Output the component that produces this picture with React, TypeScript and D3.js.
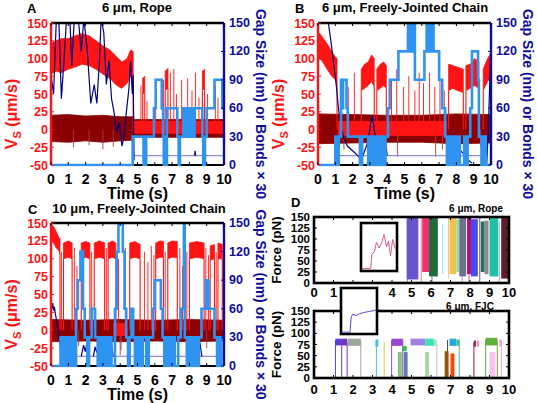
import React from "react";
import * as d3 from "d3";

type Env = number[][]; // [t, lo, hi]
type Pt = number[]; // [t, v]

// ---------------- shared ticks ----------------
const timeTicks = [0, 1, 2, 3, 4, 5, 6, 7, 8, 9, 10];
const speedTicks = [-50, -25, 0, 25, 50, 75, 100, 125, 150];
const gapTicks = [0, 30, 60, 90, 120, 150];
const forceTicks = [0, 25, 50, 75, 100, 125, 150];

// ---------------- Panel A: 6 µm, Rope ----------------
const aRedHigh: Env[] = [
  [[0, 78, 122], [0.3, 82, 125], [0.6, 80, 128], [1.0, 85, 128], [1.4, 88, 132], [1.8, 92, 135], [2.2, 90, 132], [2.6, 85, 125], [3.0, 78, 118], [3.4, 72, 112], [3.8, 62, 102], [4.1, 58, 95], [4.4, 65, 100], [4.6, 75, 112], [4.75, 70, 110]],
  [[5.3, 50, 72], [5.42, 52, 75]],
  [[6.6, 55, 82], [6.76, 58, 86]],
  [[8.75, 55, 82], [8.88, 58, 85]],
];
const aRedLow: number[][] = [[4.75, 10, -6, 12]];
const aDarkBand: Env = [[0, -17, 20], [1, -18, 21], [2, -16, 19], [3, -18, 20], [4, -16, 18], [4.75, -15, 18], [4.8, -11, 14], [10, -11, 14]];
const aDarkSpikes: Pt[] = [[1.3, -25], [2.2, -22], [3.0, -28], [3.6, -24]];
const aRedSpikes: Pt[] = [[5.2, 62], [5.55, 40], [6.05, 55], [6.5, 70], [6.9, 80], [7.1, 85], [7.25, 50], [7.55, 70], [7.9, 72], [8.15, 55], [8.35, 80], [8.55, 45], [9.05, 50], [9.5, 62], [9.65, 45]];
const aNavy: Pt[][] = [
  [[0, 95], [0.15, 75], [0.3, 150], [0.45, 155], [0.6, 70], [0.75, 110], [0.9, 155], [1.1, 150], [1.2, 105], [1.35, 155], [1.6, 150], [1.75, 120], [1.9, 155], [2.1, 120], [2.3, 65], [2.5, 85], [2.65, 65], [2.8, 110], [2.9, 155], [3.05, 140], [3.2, 85], [3.35, 110], [3.5, 70], [3.65, 55], [3.8, 35], [3.95, 45], [4.1, 20], [4.2, 28], [4.35, 55], [4.5, 80], [4.6, 110], [4.7, 75], [4.75, 95], [4.8, 5]],
  [[6.55, 10], [6.6, 17], [6.65, 10]],
  [[8.3, 10], [8.33, 15], [8.36, 10]],
];
const aBaseline: number[][] = [[4.8, 10]];
const aBlue: Pt[] = [[0, 0], [4.72, 30], [5.35, 0], [5.5, 30], [5.95, 60], [6.05, 90], [6.4, 60], [6.48, 30], [6.52, 0], [6.6, 30], [6.64, 0], [6.7, 60], [7.3, 30], [7.38, 0], [7.45, 30], [7.65, 60], [7.75, 30], [7.8, 60], [7.9, 30], [7.95, 60], [8.05, 30], [8.1, 60], [8.2, 30], [8.3, 60], [8.75, 30], [8.8, 0], [8.9, 30], [9.0, 60], [9.45, 90], [9.9, 60], [10, 60]];

// ---------------- Panel B: 6 µm, Freely-Jointed Chain ----------------
const bRedHigh: Env[] = [
  [[0, 100, 138], [0.2, 98, 132], [0.4, 90, 125], [0.6, 82, 118], [0.8, 75, 110], [1.0, 70, 102], [1.1, 65, 100]],
  [[2.5, 55, 85], [2.7, 58, 92], [2.9, 62, 95], [3.1, 68, 105], [3.25, 60, 100]],
  [[3.4, 55, 85], [3.6, 58, 92], [3.8, 62, 95], [3.95, 58, 90]],
  [[7.55, 55, 92], [7.8, 58, 90], [8.05, 55, 88], [8.4, 52, 85]],
  [[8.55, 55, 90], [8.8, 58, 92], [9.05, 62, 100], [9.3, 58, 95]],
  [[9.55, 55, 85], [9.8, 68, 100], [10, 75, 108]],
];
const bRedLow: number[][] = [[1.15, 7.45, -9, 12]];
const bDarkBand: Env = [[0, -20, 22], [2, -19, 21], [4, -18, 20], [6, -18, 20], [8, -20, 22], [10, -19, 21]];
const bDarkSpikes: Pt[] = [[1.5, -28], [3.0, -30], [4.6, -38], [6.8, -38], [7.2, -28], [9.4, -25]];
const bRedSpikes: Pt[] = [[1.3, 65], [1.75, 60], [2.1, 80], [4.25, 70], [4.55, 85], [4.95, 60], [5.25, 75], [5.6, 55], [5.85, 80], [6.1, 65], [6.45, 80], [6.75, 60], [7.05, 70], [7.3, 55]];
const bNavy: Pt[][] = [
  [[0.5, 160], [0.6, 150], [0.75, 130], [0.9, 108], [1.05, 85], [1.2, 57], [1.35, 38], [1.5, 28], [1.7, 20], [2.0, 15], [2.3, 10], [2.5, 5], [2.7, 15], [2.9, 25], [3.05, 45], [3.15, 52], [3.3, 30], [3.5, 20], [3.7, 15], [3.9, 25], [4.0, 10]],
  [[7.55, 30], [7.8, 25], [8.1, 18], [8.4, 12], [8.7, 5], [8.9, 2]],
  [[9.75, 0], [9.85, 40], [9.95, 100], [10, 130]],
];
const bBaseline: number[][] = [[1.2, 9.5]];
const bBlue: Pt[] = [[0, 0], [1.0, 30], [1.08, 0], [1.2, 30], [1.33, 90], [1.4, 60], [1.45, 90], [1.65, 60], [1.72, 30], [2.42, 0], [2.55, 30], [2.9, 0], [2.98, 30], [3.05, 0], [3.2, 30], [3.3, 0], [3.45, 30], [3.55, 0], [3.7, 30], [3.8, 0], [3.9, 30], [4.05, 60], [4.15, 90], [4.65, 120], [5.2, 150], [5.28, 120], [5.35, 150], [5.42, 120], [5.5, 150], [5.6, 90], [6.15, 120], [6.28, 150], [6.35, 120], [6.42, 150], [6.5, 120], [6.58, 150], [6.68, 120], [7.0, 90], [7.18, 60], [7.35, 30], [7.45, 0], [7.6, 30], [7.7, 0], [7.85, 30], [7.95, 0], [8.1, 30], [8.2, 0], [8.45, 30], [8.55, 0], [8.65, 30], [8.8, 60], [8.9, 120], [9.25, 90], [9.3, 30], [9.45, 0], [9.55, 30], [9.7, 0], [10, 0]];

// ---------------- Panel C: 10 µm, Freely-Jointed Chain ----------------
const cRedHigh: Env[] = [
  [[0, 125, 148], [0.15, 122, 145], [0.3, 115, 138], [0.45, 112, 130], [0.52, 105, 128]],
  [[0.72, 100, 122], [1.0, 102, 125], [1.22, 100, 122]],
  [[1.75, 100, 122], [2.0, 102, 124], [2.25, 100, 122]],
  [[2.5, 100, 122], [2.8, 102, 125], [3.1, 100, 122]],
  [[3.3, 100, 122], [3.55, 102, 125], [3.75, 100, 122]],
  [[4.55, 100, 122], [4.85, 102, 124], [5.15, 100, 120]],
  [[6.05, 100, 122], [6.3, 102, 125], [6.5, 102, 124]],
  [[6.75, 100, 122], [7.0, 102, 125], [7.3, 102, 124]],
  [[8.0, 100, 122], [8.45, 102, 124], [8.85, 100, 122]],
  [[9.2, 98, 118], [9.45, 100, 120]],
  [[9.65, 100, 122], [9.9, 100, 120]],
];
const cRedLow: number[][] = [[3.6, 4.3, -8, 10]];
const cDarkBand: Env = [[0, -16, 15], [2, -15, 14], [4, -16, 15], [6, -15, 14], [8, -16, 15], [10, -15, 14]];
const cDarkSpikes: Pt[] = [[4.0, -35], [4.05, -28], [9.0, -25], [1.6, -22]];
const cRedSpikes: Pt[] = [[0.6, 110], [1.35, 115], [1.5, 90], [2.35, 110], [3.2, 115], [3.9, 100], [4.3, 115], [5.4, 110], [5.6, 95], [5.8, 118], [5.95, 105], [6.6, 110], [7.45, 115], [7.6, 90], [7.85, 110], [8.95, 115], [9.1, 105], [9.55, 110], [10, 115]];
const cNavy: Pt[][] = [
  [[0, 68], [0.05, 60], [0.1, 66], [0.15, 58], [0.2, 62], [0.25, 55], [0.3, 50], [0.4, 38], [0.5, 25], [0.6, 12], [0.7, 8]],
  [[0.9, 10], [1.0, 20], [1.08, 13], [1.15, 22], [1.22, 10]],
  [[1.75, 10], [1.88, 22], [1.98, 15], [2.08, 25], [2.2, 10]],
  [[2.45, 10], [2.55, 20], [2.65, 14], [2.75, 23], [2.85, 10]],
  [[3.2, 10], [3.3, 22], [3.4, 15], [3.5, 22], [3.6, 10]],
  [[6.8, 10], [6.9, 18], [6.98, 24], [7.08, 12]],
  [[8.3, 10], [8.42, 22], [8.5, 16], [8.6, 25], [8.72, 10]],
];
const cBaseline: number[][] = [[0.6, 10]];
const cBlue: Pt[] = [[0, 0], [0.55, 30], [0.62, 0], [0.7, 30], [0.8, 0], [0.95, 30], [1.05, 0], [1.2, 30], [1.3, 0], [1.45, 60], [1.55, 90], [1.7, 120], [1.85, 60], [1.95, 30], [2.1, 0], [2.2, 30], [2.35, 60], [2.55, 30], [2.7, 0], [2.8, 30], [2.95, 0], [3.1, 30], [3.2, 0], [3.35, 30], [3.5, 0], [3.7, 60], [3.8, 120], [3.9, 150], [4.15, 120], [4.25, 60], [4.35, 30], [4.45, 0], [4.55, 30], [4.65, 60], [4.75, 30], [4.85, 0], [5.0, 30], [5.15, 0], [5.3, 30], [5.5, 0], [5.65, 30], [5.9, 60], [6.0, 90], [6.35, 60], [6.45, 30], [6.55, 0], [6.7, 30], [6.85, 0], [7.0, 30], [7.15, 0], [7.35, 30], [7.5, 60], [7.68, 150], [7.73, 30], [7.85, 0], [8.0, 30], [8.15, 0], [8.3, 30], [8.45, 0], [8.55, 30], [8.7, 60], [8.95, 90], [9.1, 60], [9.45, 30], [9.6, 0], [9.75, 30], [9.85, 0], [10, 0]];

// ---------------- Panel D: forces ----------------
// rope bonds: [t0, t1, lo, hi], colour by index
const dRopeBands: number[][] = [
  [4.75, 5.35, 8, 150], [5.55, 5.9, 25, 150], [5.9, 6.35, 15, 150], [6.95, 7.3, 20, 150],
  [7.3, 7.45, 25, 145], [7.45, 7.8, 15, 148], [7.85, 8.05, 20, 150], [8.05, 8.4, 15, 145],
  [8.55, 8.75, 25, 140], [8.75, 8.95, 20, 142], [9.0, 9.45, 15, 150], [9.6, 10, 10, 150],
];
const dRopeColors = ["#6a55cc", "#e8336e", "#1f6b3a", "#f2c14e", "#92e0a0", "#707090", "#b0107a", "#4a4af0", "#2e6e5e", "#8a8a8a", "#20c0a8", "#5a2030"];
// rope thin traces: [t, lo, hi]
const dRopeLines: number[][] = [[4.8, 0, 120], [5.5, 0, 150], [6.05, 0, 40], [6.6, 20, 135], [6.9, 10, 150], [7.6, 0, 60], [7.95, 0, 20], [8.5, 0, 150], [9.5, 0, 140]];
const dRopeLineColors = ["#9a8ae0", "#f07aa0", "#5a9a6a", "#8fe0e0", "#e0d080", "#a0a0c0", "#c060b0", "#606090", "#b0a0e0"];
// FJC bonds: plateaus [t0, t1, lo, hi]
const dFjcBands: number[][] = [
  [1.1, 1.42, 73, 88], [1.42, 1.7, 73, 88], [1.72, 2.4, 72, 88], [3.15, 3.3, 70, 86],
  [3.98, 4.55, 72, 88], [4.55, 4.75, 60, 72], [4.95, 5.7, 73, 88], [5.7, 6.15, 72, 88],
  [6.15, 6.3, 72, 86], [6.95, 7.3, 72, 88], [7.3, 7.45, 72, 86], [8.2, 8.3, 70, 84],
  [8.35, 8.45, 70, 84], [8.8, 9.4, 73, 90], [9.5, 9.62, 70, 86],
  [4.3, 4.5, 0, 58], [4.6, 4.8, 0, 58], [5.7, 5.9, 0, 58], [6.7, 6.9, 0, 60], [7.0, 7.2, 0, 55], [9.0, 9.3, 0, 58],
];
const dFjcColors = ["#5b3fd6", "#7b2fbf", "#9aaa98", "#3cc4e0", "#9b45d6", "#30c050", "#a080e0", "#40e0b0", "#a0e8c8", "#20a8e0", "#40c090", "#a01050", "#f080b0", "#60b040", "#f8a0e0", "#7cc87c", "#6878a8", "#a8d8a8", "#8b5a00", "#ff4500", "#f8c0f0"];
const dFjcLines: number[][] = [[1.1, 0, 85], [1.42, 0, 85], [1.7, 0, 80], [2.4, 0, 85], [3.2, 0, 86], [3.6, 0, 80], [3.98, 0, 85], [4.55, 0, 85], [6.3, 0, 80], [6.85, 0, 85], [7.45, 0, 86], [8.2, 0, 80], [8.8, 0, 85], [9.4, 0, 85], [9.6, 0, 86]];
const dFjcLineColors = ["#5b3fd6", "#5b3fd6", "#7b2fbf", "#9aaa98", "#3cc4e0", "#d0d040", "#9b45d6", "#9b45d6", "#c0c0c0", "#404040", "#40c090", "#a01050", "#60b040", "#60b040", "#f8a0e0"];
// insets (relative units 0..100)
const ropeInset: Pt[] = [[4, 5], [27, 5], [30, 35], [37, 40], [43, 60], [50, 48], [57, 58], [64, 76], [71, 50], [76, 62], [82, 32], [88, 66], [95, 46]];
const fjcInset: Pt[] = [[2, 4], [25, 4], [28, 35], [32, 43], [42, 40], [51, 44], [65, 47], [79, 49], [98, 52]];

// ---------------- styles ----------------
const FONT = "'Liberation Sans', Arial, Helvetica, sans-serif";
const RED = "#ff1414";
const DARK_RED = "#8b0000";
const NAVY = "#000080";
const AXIS_NAVY = "#0c0c9c";
const BLUE = "#2f93f2";
const LAV = "#8e8ed6";

interface Box { x0: number; x1: number; y0: number; y1: number; }
interface PanelSpec {
  id: string; box: Box; letter: string; letterX: number; letterY: number; title: string; titleX: number; titleY: number;
  redHigh: Env[]; redLow: number[][]; darkBand: Env; darkSpikes: Pt[]; redSpikes: Pt[]; navy: Pt[][]; baseline: number[][]; blue: Pt[];
}

const panels: PanelSpec[] = [
  { id: "A", box: { x0: 51, x1: 224, y0: 23, y1: 165 }, letter: "A", letterX: 27, letterY: 13, title: "6 μm, Rope", titleX: 137, titleY: 12,
    redHigh: aRedHigh, redLow: aRedLow, darkBand: aDarkBand, darkSpikes: aDarkSpikes, redSpikes: aRedSpikes, navy: aNavy, baseline: aBaseline, blue: aBlue },
  { id: "B", box: { x0: 318, x1: 491, y0: 23, y1: 165 }, letter: "B", letterX: 295, letterY: 13, title: "6 μm, Freely-Jointed Chain", titleX: 405, titleY: 12,
    redHigh: bRedHigh, redLow: bRedLow, darkBand: bDarkBand, darkSpikes: bDarkSpikes, redSpikes: bRedSpikes, navy: bNavy, baseline: bBaseline, blue: bBlue },
  { id: "C", box: { x0: 51, x1: 224, y0: 223, y1: 366 }, letter: "C", letterX: 28, letterY: 214, title: "10 μm, Freely-Jointed Chain", titleX: 139, titleY: 213,
    redHigh: cRedHigh, redLow: cRedLow, darkBand: cDarkBand, darkSpikes: cDarkSpikes, redSpikes: cRedSpikes, navy: cNavy, baseline: cBaseline, blue: cBlue },
];

function SpeedPanel({ p }: { p: PanelSpec }) {
  const { box } = p;
  const x = d3.scaleLinear().domain([0, 10]).range([box.x0, box.x1]);
  const yS = d3.scaleLinear().domain([-50, 150]).range([box.y1, box.y0]);
  const yG = d3.scaleLinear().domain([0, 150]).range([box.y1, box.y0]);
  const area = d3.area<number[]>().x((d) => x(d[0])).y0((d) => yS(d[1])).y1((d) => yS(d[2]));
  const line = d3.line<number[]>().x((d) => x(d[0])).y((d) => yG(d[1]));
  const step = d3.line<number[]>().x((d) => x(d[0])).y((d) => yG(d[1])).curve(d3.curveStepAfter);
  const clip = `clip-${p.id}`;
  const midY = (box.y0 + box.y1) / 2;
  return (
    <g>
      <defs>
        <clipPath id={clip}>
          <rect x={box.x0} y={box.y0} width={box.x1 - box.x0} height={box.y1 - box.y0 + 1.5} />
        </clipPath>
      </defs>
      <line x1={box.x0} x2={box.x1} y1={box.y1} y2={box.y1} stroke="#000" strokeWidth={2.2} />
      <g clipPath={`url(#${clip})`}>
        <path d={area(p.darkBand) || ""} fill={DARK_RED} stroke={DARK_RED} strokeWidth={0.8} />
        {p.darkSpikes.map(([t, v], i) => (
          <line key={i} x1={x(t)} x2={x(t)} y1={yS(0)} y2={yS(v)} stroke="#a04040" strokeWidth={0.9} />
        ))}
        {p.redLow.map(([t0, t1, lo, hi], i) => (
          <rect key={i} x={x(t0)} width={x(t1) - x(t0)} y={yS(hi)} height={yS(lo) - yS(hi)} fill={RED} />
        ))}
        {p.redHigh.map((seg, i) => {
          const a = seg[0];
          const b = seg[seg.length - 1];
          return (
            <g key={i}>
              <path d={area(seg) || ""} fill={RED} stroke={RED} strokeWidth={0.8} />
              <line x1={x(a[0])} x2={x(a[0])} y1={yS(0)} y2={yS(a[1])} stroke={RED} strokeWidth={1.1} />
              <line x1={x(b[0])} x2={x(b[0])} y1={yS(0)} y2={yS(b[1])} stroke={RED} strokeWidth={1.1} />
            </g>
          );
        })}
        {p.redSpikes.map(([t, v], i) => (
          <line key={i} x1={x(t)} x2={x(t)} y1={yS(0)} y2={yS(v)} stroke={RED} strokeWidth={0.9} />
        ))}
        {p.baseline.map(([t0, t1], i) => (
          <line key={i} x1={x(t0)} x2={x(t1)} y1={yG(10)} y2={yG(10)} stroke={LAV} strokeWidth={1.3} />
        ))}
        {p.navy.map((seg, i) => (
          <path key={i} d={line(seg) || ""} fill="none" stroke={NAVY} strokeWidth={1.2} />
        ))}
        <path d={step(p.blue) || ""} fill="none" stroke={BLUE} strokeWidth={2.6} />
      </g>
      {/* frame */}
      <line x1={box.x0} x2={box.x1} y1={box.y0} y2={box.y0} stroke="#000" strokeWidth={2.6} />
      <line x1={box.x0} x2={box.x0} y1={box.y0} y2={box.y1} stroke={RED} strokeWidth={2.4} />
      <line x1={box.x1} x2={box.x1} y1={box.y0} y2={box.y1} stroke={AXIS_NAVY} strokeWidth={2.4} />
      {timeTicks.map((t) => (
        <g key={t}>
          <line x1={x(t)} x2={x(t)} y1={box.y1} y2={box.y1 - 3} stroke="#000" strokeWidth={1} />
          <line x1={x(t)} x2={x(t)} y1={box.y0} y2={box.y0 + 3} stroke="#000" strokeWidth={1} />
          <text x={x(t)} y={box.y1 + 18.5} textAnchor="middle" fontSize={14} fontWeight="bold" fill="#000">{t}</text>
        </g>
      ))}
      {speedTicks.map((v) => (
        <g key={v}>
          <line x1={box.x0} x2={box.x0 + 3} y1={yS(v)} y2={yS(v)} stroke={RED} strokeWidth={1} />
          <text x={box.x0 - 3} y={yS(v) + 4.5} textAnchor="end" fontSize={12.5} fontWeight="bold" fill={RED}>{v}</text>
        </g>
      ))}
      {gapTicks.map((v) => (
        <g key={v}>
          <line x1={box.x1} x2={box.x1 - 3} y1={yG(v)} y2={yG(v)} stroke={AXIS_NAVY} strokeWidth={1} />
          <text x={box.x1 + 5} y={yG(v) + 4} textAnchor="start" fontSize={12.5} fontWeight="bold" fill={AXIS_NAVY}>{v}</text>
        </g>
      ))}
      <text x={(box.x0 + box.x1) / 2} y={box.y1 + 34} textAnchor="middle" fontSize={16} fontWeight="bold">Time (s)</text>
      <text transform={`translate(${box.x0 - 34},${midY + 20}) rotate(-90)`} textAnchor="middle" fontSize={16} fontWeight="bold" fill={RED}>
        V<tspan dy={4} fontSize={11}>S</tspan><tspan dy={-4}> (μm/s)</tspan>
      </text>
      <text transform={`translate(${box.x1 + 32},${midY + 10}) rotate(90)`} textAnchor="middle" fontSize={14} fontWeight="bold" fill={AXIS_NAVY}>
        Gap Size (nm) or Bonds × 30
      </text>
      <text x={p.letterX} y={p.letterY} fontSize={13} fontWeight="bold">{p.letter}</text>
      <text x={p.titleX} y={p.titleY} textAnchor="middle" fontSize={13} fontWeight="bold">{p.title}</text>
    </g>
  );
}

interface ForceSpec {
  id: string; box: Box; bands: number[][]; bandColors: string[]; lines: number[][]; lineColors: string[];
  inset: Pt[]; insetColor: string; insetBox: Box; title: string; titleX: number; titleY: number; titleAnchor: "end" | "middle";
  tickDy: number;
}

function ForcePanel({ f }: { f: ForceSpec }) {
  const { box } = f;
  const x = d3.scaleLinear().domain([0, 10]).range([box.x0, box.x1]);
  const y = d3.scaleLinear().domain([0, 150]).range([box.y1, box.y0]);
  const clip = `clip-${f.id}`;
  return (
    <g>
      <defs>
        <clipPath id={clip}>
          <rect x={box.x0} y={box.y0} width={box.x1 - box.x0} height={box.y1 - box.y0} />
        </clipPath>
      </defs>
      <g clipPath={`url(#${clip})`}>
        {f.lines.map(([t, lo, hi], i) => (
          <line key={`l${i}`} x1={x(t)} x2={x(t)} y1={y(lo)} y2={y(hi)} stroke={f.lineColors[i]} strokeWidth={1} />
        ))}
        {f.bands.map(([t0, t1, lo, hi], i) => (
          <rect key={`b${i}`} x={x(t0)} width={x(t1) - x(t0)} y={y(hi)} height={y(lo) - y(hi)} fill={f.bandColors[i]} />
        ))}
      </g>
      <rect x={box.x0} y={box.y0} width={box.x1 - box.x0} height={box.y1 - box.y0} fill="none" stroke="#000" strokeWidth={2.6} />
      {timeTicks.map((t) => (
        <g key={t}>
          <line x1={x(t)} x2={x(t)} y1={box.y1} y2={box.y1 - 3} stroke="#000" strokeWidth={1} />
          <line x1={x(t)} x2={x(t)} y1={box.y0} y2={box.y0 + 3} stroke="#000" strokeWidth={1} />
          <text x={x(t)} y={box.y1 + f.tickDy} textAnchor="middle" fontSize={13} fontWeight="bold">{t}</text>
        </g>
      ))}
      {forceTicks.map((v) => (
        <g key={v}>
          <line x1={box.x0} x2={box.x0 + 3} y1={y(v)} y2={y(v)} stroke="#000" strokeWidth={1} />
          <line x1={box.x1} x2={box.x1 - 3} y1={y(v)} y2={y(v)} stroke="#000" strokeWidth={1} />
          <text x={box.x0 - 4} y={y(v) + 4} textAnchor="end" fontSize={11.5} fontWeight="bold">{v}</text>
        </g>
      ))}
      <text transform={`translate(${box.x0 - 33},${(box.y0 + box.y1) / 2}) rotate(-90)`} textAnchor="middle" fontSize={13.5} fontWeight="bold">Force (pN)</text>
      <text x={f.titleX} y={f.titleY} textAnchor={f.titleAnchor} fontSize={10} fontWeight="bold">{f.title}</text>
    </g>
  );
}

function Inset({ b, data, color }: { b: Box; data: Pt[]; color: string }) {
  const x = d3.scaleLinear().domain([0, 100]).range([b.x0, b.x1]);
  const y = d3.scaleLinear().domain([0, 100]).range([b.y1, b.y0]);
  const line = d3.line<number[]>().x((d) => x(d[0])).y((d) => y(d[1]));
  return (
    <g>
      <rect x={b.x0} y={b.y0} width={b.x1 - b.x0} height={b.y1 - b.y0} fill="#fff" stroke="#000" strokeWidth={2.6} />
      <path d={line(data) || ""} fill="none" stroke={color} strokeWidth={1} />
    </g>
  );
}

const forcePanels: ForceSpec[] = [
  { id: "D1", box: { x0: 314, x1: 509, y0: 217, y1: 283 }, bands: dRopeBands, bandColors: dRopeColors, lines: dRopeLines, lineColors: dRopeLineColors,
    inset: ropeInset, insetColor: "#e0588a", insetBox: { x0: 361, x1: 397, y0: 223, y1: 271 }, title: "6 μm, Rope", titleX: 503, titleY: 212, titleAnchor: "end", tickDy: 14 },
  { id: "D2", box: { x0: 314, x1: 509, y0: 311, y1: 378 }, bands: dFjcBands, bandColors: dFjcColors, lines: dFjcLines, lineColors: dFjcLineColors,
    inset: fjcInset, insetColor: "#6a3fd0", insetBox: { x0: 341, x1: 377, y0: 288, y1: 334 }, title: "6 μm, FJC", titleX: 470, titleY: 310, titleAnchor: "middle", tickDy: 16 },
];

export default function App() {
  return (
    <svg width={537} height={403} viewBox="0 0 537 403" style={{ position: "absolute", left: 0, top: 0, background: "#fff" }} fontFamily={FONT}>
      <rect x={0} y={0} width={537} height={403} fill="#fff" />
      {panels.map((p) => (
        <SpeedPanel key={p.id} p={p} />
      ))}
      {forcePanels.map((f) => (
        <ForcePanel key={f.id} f={f} />
      ))}
      {forcePanels.map((f) => (
        <Inset key={`i${f.id}`} b={f.insetBox} data={f.inset} color={f.insetColor} />
      ))}
      <text x={291} y={207} fontSize={13} fontWeight="bold">D</text>
    </svg>
  );
}
